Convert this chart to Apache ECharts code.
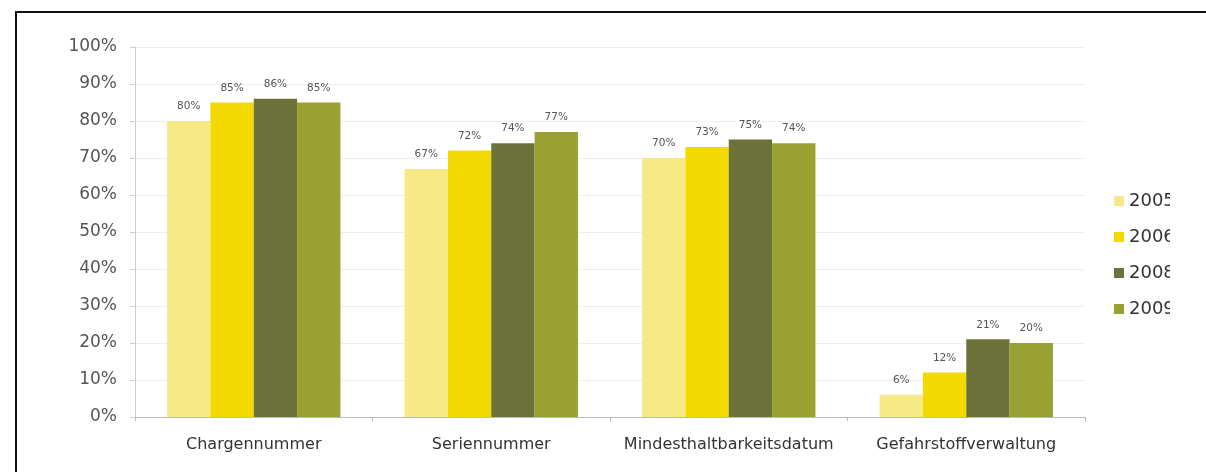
<!DOCTYPE html>
<html>
<head>
<meta charset="utf-8">
<script src="https://cdn.jsdelivr.net/npm/echarts@6/dist/echarts.min.js"></script>
<style>
  html, body { margin: 0; padding: 0; background: #fff; }
  #wrap { position: relative; width: 1206px; height: 472px; overflow: hidden; }
  #chart { position: absolute; left: 0; top: 0; width: 1170px; height: 472px; }
  #frame {
    position: absolute; left: 15px; top: 11px; width: 1191px; height: 461px;
    border-top: 2px solid #111; border-left: 2px solid #111; pointer-events: none;
  }
</style>
</head>
<body>
<div id="wrap">
  <div id="chart"></div>
  <div id="frame"></div>
</div>
<script>
// Kategorien und Anteile (in %) je Erhebungsjahr
const categories = ['Chargennummer', 'Seriennummer', 'Mindesthaltbarkeitsdatum', 'Gefahrstoffverwaltung'];
const years = ['2005', '2006', '2008', '2009'];
const values2005 = [80, 67, 70, 6];
const values2006 = [85, 72, 73, 12];
const values2008 = [86, 74, 75, 21];
const values2009 = [85, 77, 74, 20];
const yTicks = [0, 10, 20, 30, 40, 50, 60, 70, 80, 90, 100];

const colors = ['#F7EA86', '#F2D900', '#6D723A', '#99A132'];
const seriesValues = [values2005, values2006, values2008, values2009];
const FONT = 'DejaVu Sans';

const chart = echarts.init(document.getElementById('chart'), null, { renderer: 'canvas' });

const series = years.map((y, i) => ({
  name: y,
  type: 'bar',
  data: seriesValues[i],
  barGap: '0%',
  barCategoryGap: '27%',
  itemStyle: { color: colors[i] },
  emphasis: { disabled: true },
  label: {
    show: true,
    position: 'top',
    distance: 9,
    formatter: '{c}%',
    fontFamily: FONT,
    fontSize: 10.5,
    color: '#555'
  }
}));

chart.setOption({
  animation: false,
  color: colors,
  grid: { left: 135, right: 85, top: 47, bottom: 55, containLabel: false },
  legend: {
    orient: 'vertical',
    left: 1114,
    top: 192,
    padding: 0,
    itemWidth: 10,
    itemHeight: 10,
    itemGap: 18,
    icon: 'rect',
    data: years,
    textStyle: { fontFamily: FONT, fontSize: 18, color: '#333', lineHeight: 18 }
  },
  xAxis: {
    type: 'category',
    data: categories,
    axisLine: { show: true, lineStyle: { color: '#bbb', width: 1 } },
    axisTick: { show: true, length: 4, lineStyle: { color: '#bbb' } },
    axisLabel: { interval: 0, fontFamily: FONT, fontSize: 16, color: '#333', margin: 20 }
  },
  yAxis: {
    type: 'value',
    min: yTicks[0],
    max: yTicks[yTicks.length - 1],
    interval: yTicks[1] - yTicks[0],
    axisLine: { show: true, lineStyle: { color: '#ccc' } },
    axisTick: { show: true, length: 5, lineStyle: { color: '#ccc' } },
    splitLine: { show: true, lineStyle: { color: '#eee' } },
    axisLabel: {
      formatter: '{value}%',
      fontFamily: FONT,
      fontSize: 17,
      color: '#555',
      margin: 18
    }
  },
  series: series
});
</script>
</body>
</html>
